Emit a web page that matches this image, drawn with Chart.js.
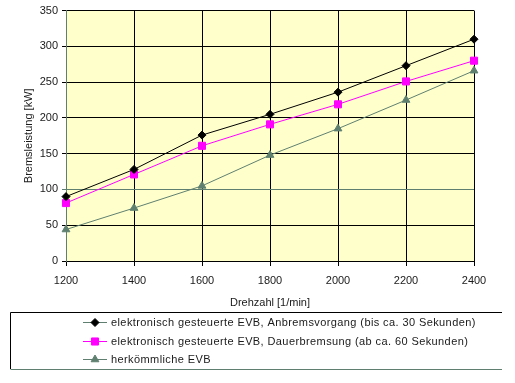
<!DOCTYPE html>
<html>
<head>
<meta charset="utf-8">
<script src="https://cdn.jsdelivr.net/npm/chart.js@4.4.0/dist/chart.umd.min.js"></script>
<style>
    html, body { margin: 0; padding: 0; background: #ffffff; }
    #wrap { width: 515px; height: 383px; }
</style>
</head>
<body>
<div id="wrap"><canvas id="bremsChart" width="515" height="383"></canvas></div>
<script>
/* ===============================
   Data
=============================== */

const drehzahl = [1200, 1400, 1600, 1800, 2000, 2200, 2400];

const anbremsvorgang = [90, 128, 176, 205, 236, 273, 310];
const dauerbremsung = [81, 121, 161, 191, 219, 251, 280];
const herkoemmlich = [44, 74, 105, 148, 185, 225, 266];

const seriesNames = [
    "elektronisch gesteuerte EVB, Anbremsvorgang (bis ca. 30 Sekunden)",
    "elektronisch gesteuerte EVB, Dauerbremsung (ab ca. 60 Sekunden)",
    "herkömmliche EVB"
];

const yMin = 0, yMax = 350, yStep = 50;
const xMin = 1200, xMax = 2400, xStep = 200;

const GREEN = "#5f8070";
const TEXT = "#1a1a1a";
const FONT = { family: "'Liberation Sans', Arial, sans-serif", size: 11 };

function toPoints(values) {
    return values.map(function (v, i) { return { x: drehzahl[i], y: v }; });
}

/* ===============================
   Plugins
=============================== */

const plotBackground = {
    id: "plotBackground",
    beforeDraw: function (chart) {
        const a = chart.chartArea;
        const ctx = chart.ctx;
        ctx.save();
        ctx.fillStyle = "#ffffcc";
        ctx.fillRect(a.left, a.top, a.right - a.left, a.bottom - a.top);
        ctx.restore();
    }
};

const boxLegend = {
    id: "boxLegend",
    afterDraw: function (chart) {
        const ctx = chart.ctx;
        ctx.save();
        ctx.lineWidth = 1;

        ctx.strokeStyle = "#000000";
        ctx.beginPath();
        ctx.moveTo(502, 312.5);
        ctx.lineTo(10.5, 312.5);
        ctx.lineTo(10.5, 369);
        ctx.stroke();

        ctx.strokeStyle = GREEN;
        ctx.beginPath();
        ctx.moveTo(10.5, 369.5);
        ctx.lineTo(502, 369.5);
        ctx.stroke();

        chart.data.datasets.forEach(function (ds, i) {
            const y = Math.round(322 + i * 18.7) + 0.5;

            ctx.strokeStyle = ds.legendLine;
            ctx.beginPath();
            ctx.moveTo(83, y);
            ctx.lineTo(107, y);
            ctx.stroke();

            ctx.fillStyle = ds.pointBackgroundColor;
            ctx.strokeStyle = ds.pointBorderColor;
            Chart.helpers.drawPoint(ctx, {
                pointStyle: ds.pointStyle,
                radius: ds.pointRadius,
                borderWidth: 1,
                rotation: 0
            }, 95, y);

            ctx.fillStyle = TEXT;
            ctx.font = FONT.size + "px " + FONT.family;
            ctx.letterSpacing = "0.4px";
            ctx.textBaseline = "middle";
            ctx.textAlign = "left";
            ctx.fillText(ds.label, 111, y);
        });

        ctx.restore();
    }
};

/* ===============================
   Chart
=============================== */

const canvas = document.getElementById("bremsChart");

new Chart(canvas, {

    type: "line",

    data: {
        datasets: [
            {
                label: seriesNames[0],
                data: toPoints(anbremsvorgang),
                borderColor: "#000000",
                legendLine: GREEN,
                borderWidth: 1,
                clip: false,
                pointStyle: "rectRot",
                pointRadius: 4,
                pointBackgroundColor: "#000000",
                pointBorderColor: "#000000",
                pointBorderWidth: 1
            },
            {
                label: seriesNames[1],
                data: toPoints(dauerbremsung),
                borderColor: "#ff00ff",
                legendLine: "#ff00ff",
                borderWidth: 1,
                clip: false,
                pointStyle: "rect",
                pointRadius: 5,
                pointBackgroundColor: "#ff00ff",
                pointBorderColor: "#ff00ff",
                pointBorderWidth: 1
            },
            {
                label: seriesNames[2],
                data: toPoints(herkoemmlich),
                borderColor: GREEN,
                legendLine: GREEN,
                borderWidth: 1,
                clip: false,
                pointStyle: "triangle",
                pointRadius: 4.5,
                pointBackgroundColor: GREEN,
                pointBorderColor: GREEN,
                pointBorderWidth: 1
            }
        ]
    },

    options: {
        responsive: false,
        animation: false,
        devicePixelRatio: 1,
        layout: {
            padding: { top: 10, right: 41, bottom: 73, left: 0 }
        },
        plugins: {
            legend: { display: false },
            tooltip: { enabled: false }
        },
        scales: {
            x: {
                type: "linear",
                min: xMin,
                max: xMax,
                afterFit: function (s) { s.height = 49; },
                ticks: {
                    stepSize: xStep,
                    autoSkip: false,
                    maxRotation: 0,
                    color: TEXT,
                    font: FONT,
                    padding: 8,
                    callback: function (v) { return String(v); }
                },
                grid: {
                    color: "#000000",
                    lineWidth: 1,
                    tickLength: 5
                },
                border: { color: "#000000" },
                title: {
                    display: true,
                    text: "Drehzahl [1/min]",
                    color: TEXT,
                    font: FONT,
                    padding: { top: 0, bottom: 0 }
                }
            },
            y: {
                min: yMin,
                max: yMax,
                afterFit: function (s) { s.width = 66; },
                ticks: {
                    stepSize: yStep,
                    color: TEXT,
                    font: FONT,
                    padding: 4
                },
                grid: {
                    color: function (c) {
                        return c.tick && c.tick.value === 100 ? GREEN : "#000000";
                    },
                    lineWidth: 1,
                    tickLength: 4
                },
                border: { color: GREEN },
                title: {
                    display: true,
                    text: "Bremsleistung [kW]",
                    color: TEXT,
                    font: FONT,
                    padding: { top: 22, bottom: 0 }
                }
            }
        }
    },

    plugins: [plotBackground, boxLegend]

});
</script>
</body>
</html>
